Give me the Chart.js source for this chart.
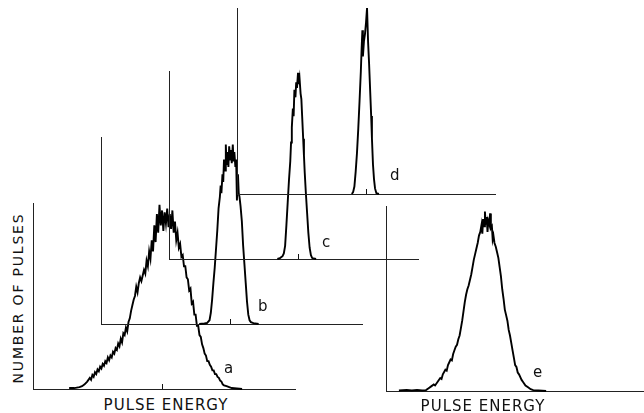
<!DOCTYPE html>
<html>
<head>
<meta charset="utf-8">
<script src="https://cdn.jsdelivr.net/npm/chart.js@4.4.1/dist/chart.umd.min.js"></script>
<style>
  html, body { margin: 0; padding: 0; background: #fff; }
  #wrap { position: relative; width: 644px; height: 413px; background: #fff; overflow: hidden; font-family: "DejaVu Sans", "Liberation Sans", Arial, sans-serif; color: #111; }
  .panel { position: absolute; }
  #pa { left: 29px; top: 199px; width: 270px; height: 194px; }
  #pb { left: 97px; top: 133px; width: 269px; height: 195px; }
  #pc { left: 165px; top: 67px; width: 257px; height: 196px; }
  #pd { left: 233px; top: 4px; width: 266px; height: 194px; }
  #pe { left: 382px; top: 202px; width: 265px; height: 193px; }
  .lbl { position: absolute; font-size: 15px; line-height: 15px; }
  .title { position: absolute; font-size: 15px; line-height: 15px; letter-spacing: 1px; white-space: nowrap; transform: translate(-50%, -50%); }
  #ytitle { left: 18px; top: 298px; font-size: 14px; line-height: 14px; letter-spacing: 1.8px; transform: translate(-50%, -50%) rotate(-90deg); }
</style>
</head>
<body>
<div id="wrap">
  <div class="panel" id="pa"><canvas id="ca"></canvas></div>
  <div class="panel" id="pb"><canvas id="cb"></canvas></div>
  <div class="panel" id="pc"><canvas id="cc"></canvas></div>
  <div class="panel" id="pd"><canvas id="cd"></canvas></div>
  <div class="panel" id="pe"><canvas id="ce"></canvas></div>
  <div class="lbl" style="left:224px;top:361px">a</div>
  <div class="lbl" style="left:258px;top:299px">b</div>
  <div class="lbl" style="left:322px;top:235px">c</div>
  <div class="lbl" style="left:390px;top:168px">d</div>
  <div class="lbl" style="left:533px;top:365px">e</div>
  <div class="title" id="ytitle">NUMBER OF PULSES</div>
  <div class="title" style="left:166px;top:405px">PULSE ENERGY</div>
  <div class="title" style="left:483px;top:406px">PULSE ENERGY</div>
</div>
<script>
// pulse energy (channel units) and number of pulses (% of peak)
const aEnergy = [14, 16, 18, 19, 20, 21, 22, 22.5, 23, 23.5, 24, 24.5, 25, 25.5, 26, 26.5, 27, 27.5, 28, 28.5, 29, 29.5, 30, 30.5, 31, 31.5, 32, 32.5, 33, 33.5, 34, 34.5, 35, 35.5, 36, 36.5, 37, 37.5, 38, 38.5, 39, 39.5, 40, 40.5, 41, 41.5, 42, 42.5, 43, 43.5, 44, 44.5, 45, 45.5, 46, 46.5, 47, 47.5, 48, 48.5, 49, 49.5, 50, 50.5, 51, 51.5, 52, 52.5, 53, 53.5, 54, 54.5, 55, 55.5, 56, 56.5, 57, 57.5, 58, 58.5, 59, 59.5, 60, 60.5, 61, 61.5, 62, 62.5, 63, 63.5, 64, 64.5, 65, 65.5, 66, 66.5, 67, 67.5, 68, 68.5, 69, 69.5, 70, 70.5, 71, 71.5, 72, 72.5, 73, 73.5, 74, 75, 76, 77, 79, 81];
const aCount = [0.5, 0.5, 1, 1.5, 2.5, 4, 6, 5, 7.5, 6.5, 9, 8, 10.5, 9.5, 12, 11, 13.5, 12.5, 15, 14, 17, 15.5, 18, 17, 20, 19, 22, 21, 24.5, 23, 27, 25, 30, 29, 33, 31, 36, 38, 42, 45, 48, 50, 55, 52, 57, 60, 58, 61, 64, 62, 69, 66, 74, 70, 80, 74, 88, 79, 94, 84, 99, 88, 96, 85, 95, 89, 97, 87, 94, 86, 96, 84, 90, 80, 84, 76, 78, 71, 72, 66, 66, 60, 59, 53, 54, 46, 47, 40, 40, 34, 34, 29, 28, 24, 22, 19, 18, 15, 15, 13, 12, 10, 10, 8, 8, 6.5, 6, 4.5, 4, 2.5, 2, 1.5, 1, 0.5, 0.3, 0];

const bEnergy = [38, 40, 41, 42, 42.5, 43, 43.5, 44, 44.5, 45, 45.5, 46, 46.3, 46.6, 47, 47.3, 47.6, 48, 48.3, 48.6, 49, 49.3, 49.6, 50, 50.3, 50.6, 51, 51.3, 51.6, 52, 52.3, 52.6, 53, 53.3, 53.6, 54, 54.5, 55, 55.5, 56, 56.5, 57, 57.5, 58, 59, 61];
const bCount = [0, 0.3, 0.5, 2, 6, 13, 22, 30, 40, 50, 62, 68, 74, 70, 80, 76, 88, 82, 96, 85, 92, 84, 95, 88, 93, 86, 96, 87, 92, 84, 88, 66, 80, 70, 68, 63, 55, 42, 32, 22, 12, 5, 2, 1, 0.5, 0];

const cEnergy = [42, 43, 44, 44.5, 45, 45.5, 46, 46.5, 47, 47.3, 47.6, 48, 48.3, 48.6, 49, 49.3, 49.6, 50, 50.3, 50.6, 51, 51.3, 51.6, 52, 52.3, 52.6, 53, 53.5, 54, 54.5, 55, 55.5, 57];
const cCount = [0, 0.5, 1.5, 3, 7, 18, 30, 42, 52, 62, 70, 80, 76, 90, 86, 94, 91, 99, 93, 96, 88, 85, 76, 64, 55, 46, 36, 25, 14, 6, 2, 0.5, 0];

const dEnergy = [44.5, 45, 45.5, 46, 46.5, 47, 47.5, 48, 48.3, 48.6, 48.8, 49.2, 49.6, 50, 50.4, 50.8, 51.2, 51.6, 52, 52.3, 52.7, 53.1, 53.5, 54, 55];
const dCount = [0, 1, 4, 12, 22, 35, 50, 66, 78, 88, 74, 82, 86, 92, 100, 82, 70, 56, 42, 30, 16, 8, 3, 0.5, 0];

const eEnergy = [5, 8, 10, 12, 14, 15.5, 16.5, 17.5, 18.5, 19, 20, 21, 21.5, 22, 23, 23.5, 24, 25, 25.5, 26, 26.5, 27, 27.5, 28, 28.5, 29, 29.5, 30, 30.5, 31, 31.5, 32, 32.5, 33, 33.5, 34, 34.5, 35, 35.5, 36, 36.5, 37, 37.3, 37.6, 38, 38.3, 38.6, 39, 39.3, 39.6, 40, 40.3, 40.6, 41, 41.3, 41.6, 42, 42.5, 43, 43.5, 44, 44.5, 45, 45.5, 46, 46.5, 47, 47.5, 48, 48.5, 49, 49.5, 50, 50.5, 51, 51.5, 52, 52.5, 53, 54, 55, 56, 57, 59, 62];
const eCount = [0.3, 0.5, 0.3, 0.5, 0.3, 0.5, 1.5, 2.5, 3.5, 3, 5, 7, 6.5, 9, 11.5, 11, 14, 17, 16.5, 20, 22, 24, 25, 28, 30, 34, 38, 43, 48, 52, 55, 57, 60, 63, 67, 71, 74, 77, 80, 84, 86, 90, 85, 93, 89, 97, 90, 94, 86, 92, 90, 96, 88, 89, 82, 84, 80, 78, 75, 72, 67, 62, 55, 50, 44, 41, 38, 33, 30, 26, 22, 18, 14, 13, 10, 9, 7.5, 6, 5, 3, 2, 1, 0.5, 0.3, 0];

// energy axis end of each panel, and where the small centre tick sits
const axisEnd = { a: 101.5, b: 101, c: 96.5, d: 100, e: 99.5 };
const centreTick = { a: 50, b: 50, c: 50, d: 50, e: null };

const tickMarker = {
  id: 'tickMarker',
  afterDatasetsDraw(chart, args, opts) {
    if (opts.at == null) return;
    let ctx = chart.ctx;
    let x = Math.round(chart.scales.x.getPixelForValue(opts.at)) + 0.5;
    let y = chart.scales.y.getPixelForValue(0);
    ctx.save();
    ctx.strokeStyle = '#111';
    ctx.lineWidth = 1;
    ctx.beginPath();
    ctx.moveTo(x, y);
    ctx.lineTo(x, y - 5);
    ctx.stroke();
    ctx.restore();
  },
};

function chart_panel(id, name, energy, count) {
  let ctx = document.getElementById(id).getContext('2d');
  let points = energy.map((e, i) => ({ x: e, y: count[i] }));
  let myChart = new Chart(ctx, {
    type: 'line',
    data: {
      datasets: [
        {
          label: name,
          data: points,
          borderColor: '#000',
          borderWidth: 1.9,
          pointRadius: 0,
          tension: 0,
          fill: false,
          clip: false,
        },
      ],
    },
    plugins: [tickMarker],
    options: {
      responsive: true,
      maintainAspectRatio: false,
      animation: false,
      events: [],
      layout: { padding: 4 },
      scales: {
        x: {
          type: 'linear',
          min: 0,
          max: axisEnd[name],
          ticks: { display: false },
          grid: { display: false, drawTicks: false },
          border: { display: true, color: '#222', width: 1 },
        },
        y: {
          min: 0,
          max: 100,
          ticks: { display: false },
          grid: { display: false, drawTicks: false },
          border: { display: true, color: '#222', width: 1 },
        },
      },
      plugins: {
        legend: { display: false },
        tooltip: { enabled: false },
        tickMarker: { at: centreTick[name] },
      },
    },
  });
}

document.addEventListener('DOMContentLoaded', (ev) => {
  chart_panel('ca', 'a', aEnergy, aCount);
  chart_panel('cb', 'b', bEnergy, bCount);
  chart_panel('cc', 'c', cEnergy, cCount);
  chart_panel('cd', 'd', dEnergy, dCount);
  chart_panel('ce', 'e', eEnergy, eCount);
});
</script>
</body>
</html>
